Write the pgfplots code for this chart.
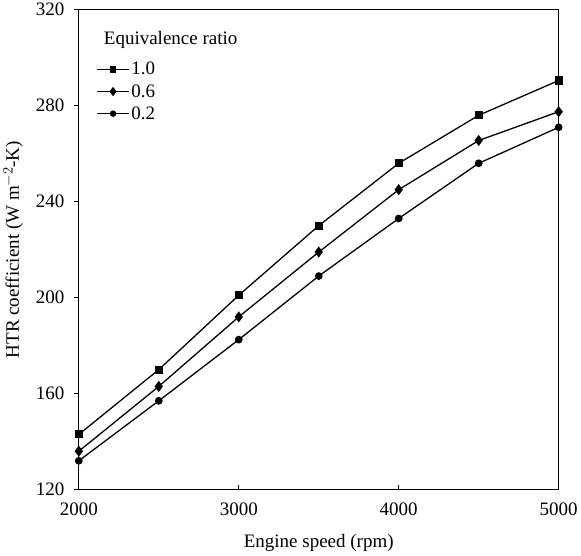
\documentclass[border=0pt]{standalone}
\usepackage{pgfplots}
\pgfplotsset{compat=1.18}
\usepackage{fontspec}
\setmainfont{Liberation Serif}
\begin{document}
\begin{tikzpicture}
\begin{axis}[
  scale only axis,
  width=480pt, height=480pt,
  xmin=2000, xmax=5000, ymin=120, ymax=320,
  xtick={2000,3000,4000,5000},
  ytick={120,160,200,240,280,320},
  xtick pos=bottom, ytick pos=left,
  xtick align=inside, ytick align=outside,
  major tick length=5pt,
  axis line style={line width=1.3pt},
  tick style={line width=1.2pt, black},
  minor tick num=0,
  scaled x ticks=false,
  /pgf/number format/assume math mode=true,
  /pgf/number format/1000 sep={},
  tick label style={font=\fontsize{19}{21}\selectfont},
  xticklabel style={yshift=-10pt},
  yticklabel style={xshift=-6pt},
  label style={font=\fontsize{19}{21}\selectfont},
  xlabel={Engine speed (rpm)},
  ylabel={HTR coefficient (W m$^{-2}$-K)},
  xlabel style={yshift=-12pt},
  ylabel style={yshift=6pt},
  legend style={draw=none, fill=none, at={(0.037,0.895)}, anchor=north west,
    font=\fontsize{19}{21}\selectfont, inner sep=0pt, row sep=4pt},
  legend cell align=left,
  legend image code/.code={\draw[mark repeat=2,mark phase=2,every mark/.append style={scale=0.8}] plot coordinates {(0cm,0cm)(0.55cm,0cm)(1.1cm,0cm)};},
  every axis plot/.append style={line width=1.3pt, black},
]
\addplot[mark=square*, mark size=3.4pt] coordinates {
(2000,143) (2500,170) (3000,201) (3500,230) (4000,256) (4500,276) (5000,290.5)};
\addlegendentry{1.0}
\addplot[mark=diamond*, mark size=4.5pt] coordinates {
(2000,136) (2500,163) (3000,192) (3500,219) (4000,245) (4500,265.5) (5000,277.5)};
\addlegendentry{0.6}
\addplot[mark=*, mark size=3.2pt] coordinates {
(2000,132) (2500,157) (3000,182.5) (3500,209) (4000,233) (4500,256) (5000,271)};
\addlegendentry{0.2}
\node[anchor=west, font=\fontsize{19}{21}\selectfont] at (rel axis cs:0.045,0.9375) {Equivalence ratio};
\end{axis}
\end{tikzpicture}
\end{document}
